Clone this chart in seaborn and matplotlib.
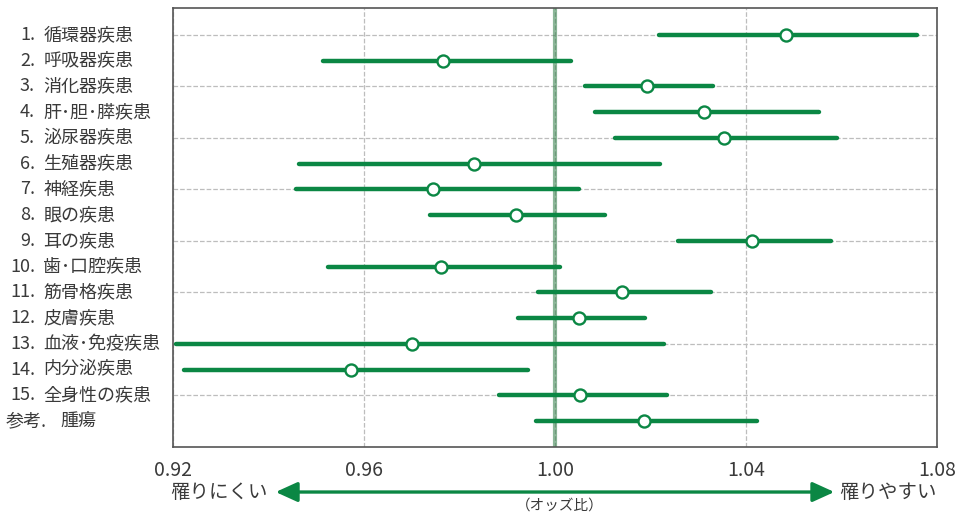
import numpy as np
import pandas as pd
import matplotlib.pyplot as plt
import matplotlib.transforms as mtransforms
import seaborn as sns

# row labels (number part and disease name)
prefixes = ['1.', '2.', '3.', '4.', '5.', '6.', '7.', '8.', '9.', '10.',
            '11.', '12.', '13.', '14.', '15.', '参考.']
names = ['循環器疾患', '呼吸器疾患', '消化器疾患', '肝･胆･膵疾患', '泌尿器疾患',
         '生殖器疾患', '神経疾患', '眼の疾患', '耳の疾患', '歯･口腔疾患',
         '筋骨格疾患', '皮膚疾患', '血液･免疫疾患', '内分泌疾患', '全身性の疾患', '腫瘍']

# odds ratio and 95% CI
odds = [1.0484, 0.9765, 1.0193, 1.0312, 1.0354, 0.9830, 0.9745, 0.9918,
        1.0413, 0.9761, 1.0140, 1.0050, 0.9701, 0.9573, 1.0052, 1.0186]
lower = [1.0218, 0.9514, 1.0063, 1.0084, 1.0126, 0.9464, 0.9458, 0.9738,
         1.0258, 0.9525, 0.9964, 0.9923, 0.9206, 0.9223, 0.9883, 0.9960]
upper = [1.0758, 1.0033, 1.0331, 1.0553, 1.0591, 1.0220, 1.0050, 1.0105,
         1.0578, 1.0010, 1.0327, 1.0188, 1.0228, 0.9943, 1.0235, 1.0423]

xticks = [0.92, 0.96, 1.00, 1.04, 1.08]

green = '#0b8744'
textcol = '#3a3a3a'

sns.set_theme(style='white')
plt.rcParams['font.family'] = ['Noto Sans CJK JP', 'DejaVu Sans']

df = pd.DataFrame({'pos': np.arange(len(names)), 'odds': odds,
                   'lower': lower, 'upper': upper})

fig = plt.figure(figsize=(9.57, 5.15), dpi=100)
ax = fig.add_axes([0.1808, 0.1320, 0.7983, 0.8525])

# reference line at 1.00
ax.axvline(1.0, color='#2f7d45', alpha=0.55, lw=3.0, zorder=1)

# confidence intervals
ax.hlines(df['pos'], df['lower'], df['upper'], color=green, lw=3.2,
          capstyle='round', zorder=3)
sns.scatterplot(data=df, x='odds', y='pos', ax=ax, s=75, color='white',
                edgecolor=green, linewidth=1.7, zorder=4, legend=False)

ax.set_xlim(0.92, 1.08)
ax.set_ylim(16.01, -1.05)
ax.set_xticks(xticks)
ax.set_xticklabels(['%.2f' % v for v in xticks])
ax.set_yticks(range(0, 16, 2))
ax.grid(True, ls='--', color='#bdbdbd', lw=0.9, zorder=0)
ax.set_axisbelow(True)
ax.tick_params(axis='x', length=0, pad=9, labelsize=14, labelcolor=textcol)
ax.tick_params(axis='y', length=0, labelleft=False)
ax.set_xlabel('')
ax.set_ylabel('')
for sp in ax.spines.values():
    sp.set_color('#555555')
    sp.set_linewidth(1.2)

# row labels
trans = mtransforms.blended_transform_factory(ax.transAxes, ax.transData)
for i in range(len(names)):
    if i < 15:
        ax.text(-0.1806, i, prefixes[i], ha='right', va='center', fontsize=13,
                color=textcol, transform=trans)
        ax.text(-0.1700, i, names[i], ha='left', va='center', fontsize=13,
                color=textcol, transform=trans)
    else:
        ax.text(-0.2186, i, prefixes[i], ha='left', va='center', fontsize=13,
                color=textcol, transform=trans)
        ax.text(-0.1479, i, names[i], ha='left', va='center', fontsize=13,
                color=textcol, transform=trans)

# arrow under the axis
trans2 = mtransforms.blended_transform_factory(ax.transData, ax.transAxes)
ax.annotate('', xy=(0.9415, -0.1025), xytext=(1.0585, -0.1025),
            xycoords=trans2, textcoords=trans2,
            arrowprops=dict(arrowstyle='<|-|>,head_length=1.1,head_width=0.5',
                            color=green, lw=2.4, shrinkA=0, shrinkB=0))
ax.text(-0.004, -0.1025, '罹りにくい', ha='left', va='center', fontsize=14,
        color=textcol, transform=ax.transAxes)
ax.text(1.0, -0.1025, '罹りやすい', ha='right', va='center', fontsize=14,
        color=textcol, transform=ax.transAxes)
ax.text(1.001, -0.134, '（オッズ比）', ha='center', va='center', fontsize=10.5,
        color=textcol, transform=trans2)

fig.savefig('out.png', dpi=100)
